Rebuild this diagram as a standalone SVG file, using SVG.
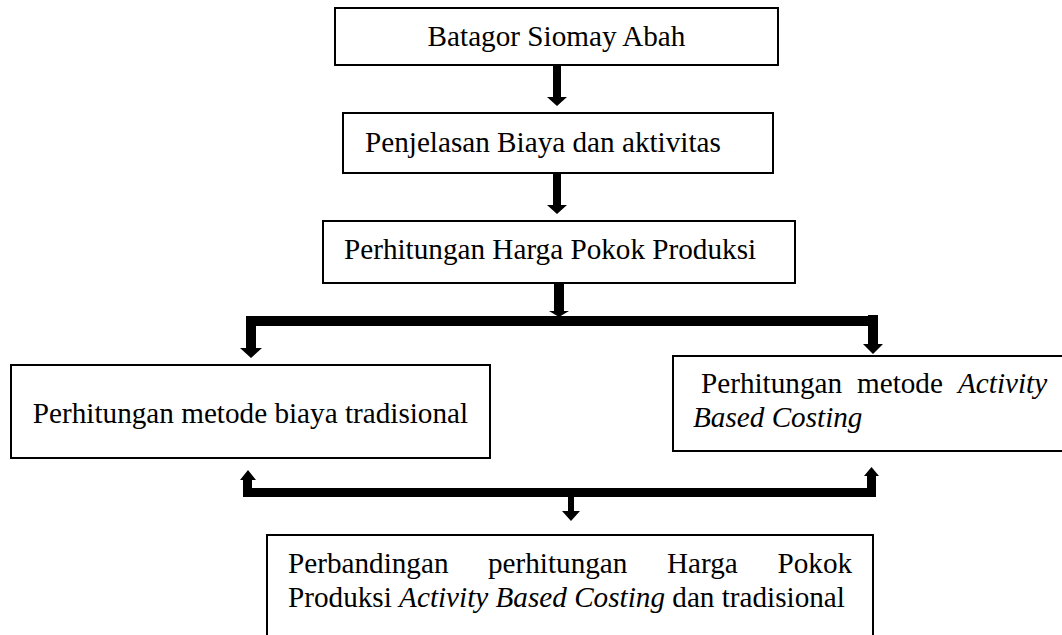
<svg xmlns="http://www.w3.org/2000/svg" width="1062" height="635" viewBox="0 0 1062 635">
<style>
.box{fill:#fff;stroke:#000;stroke-width:2}
.t{font-family:"Liberation Serif","Times New Roman",serif;font-size:29.2px;fill:#000}
.i{font-style:italic}
.c{fill:#000;stroke:none}
</style>
<rect x="0" y="0" width="1062" height="635" fill="#fff"/>
<g id="node-batagor">
<rect class="box" x="335" y="8" width="443" height="57"/>
<text class="t" x="556.5" y="46" text-anchor="middle">Batagor Siomay Abah</text>
</g>
<g id="node-penjelasan">
<rect class="box" x="343" y="113" width="430" height="60"/>
<text class="t" x="365" y="152">Penjelasan Biaya dan aktivitas</text>
</g>
<g id="node-hpp">
<rect class="box" x="323" y="221" width="472" height="62"/>
<text class="t" x="344" y="259">Perhitungan Harga Pokok Produksi</text>
</g>
<g id="node-tradisional">
<rect class="box" x="11" y="365" width="479" height="93"/>
<text class="t" x="250.5" y="423" text-anchor="middle">Perhitungan metode biaya tradisional</text>
</g>
<g id="node-abc">
<rect class="box" x="673" y="356" width="400" height="95"/>
<text class="t" y="393"><tspan x="701">Perhitungan</tspan><tspan x="857">metode</tspan><tspan x="958" class="i">Activity</tspan></text>
<text class="t i" x="693" y="427">Based Costing</text>
</g>
<g id="node-perbandingan">
<rect class="box" x="267" y="535" width="606" height="110"/>
<text class="t" y="573"><tspan x="288">Perbandingan</tspan><tspan x="488">perhitungan</tspan><tspan x="667">Harga</tspan><tspan x="777.5">Pokok</tspan></text>
<text class="t" x="288" y="607">Produksi <tspan class="i">Activity Based Costing</tspan> dan tradisional</text>
</g>
<g id="connectors">
<path class="c" d="M553,65 H561 V97 H567 L557,106 L547,97 H553 Z"/>
<path class="c" d="M553,173 H561 V205 H567 L557,214 L547,205 H553 Z"/>
<path class="c" d="M554,283 H564 V311 H569 L559,317 L549,311 H554 Z"/>
<rect class="c" x="246" y="316" width="632" height="10"/>
<path class="c" d="M246,326 H256 V348 H262 L251,358 L240,348 H246 Z"/>
<path class="c" d="M868,315 H878 V344 H883 L873,354 L863,344 H868 Z"/>
<rect class="c" x="243" y="488" width="633" height="9"/>
<path class="c" d="M243,497 V480 H240 L248,470 L256,480 H252 V497 Z"/>
<path class="c" d="M867,497 V476 H864 L871.5,467 L879,476 H876 V497 Z"/>
<path class="c" d="M568,497 H574 V511 H580 L571,521 L562,511 H568 Z"/>
</g>
</svg>
